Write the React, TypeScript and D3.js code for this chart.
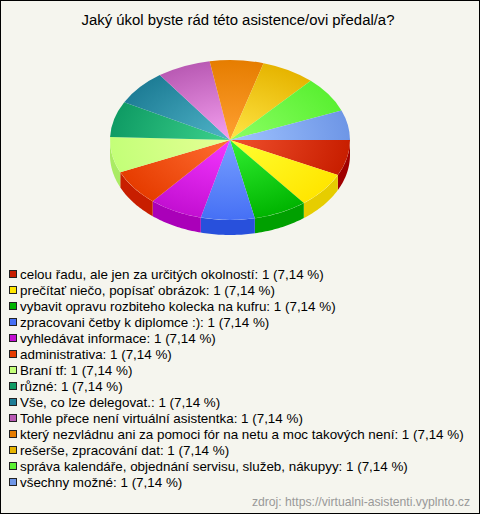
import React from "react";
import * as d3 from "d3";

const W = 480, H = 514;
const title = "Jaký úkol byste rád této asistence/ovi předal/a?";
const source = "zdroj: https://virtualni-asistenti.vyplnto.cz";
const categories = [
  "celou řadu, ale jen za určitých okolností",
  "prečítať niečo, popísať obrázok",
  "vybavit opravu rozbiteho kolecka na kufru",
  "zpracovani četby k diplomce :)",
  "vyhledávat informace",
  "administrativa",
  "Braní tf",
  "různé",
  "Vše, co lze delegovat.",
  "Tohle přece není virtuální asistentka",
  "který nezvládnu ani za pomoci fór na netu a moc takových není",
  "rešerše, zpracování dat",
  "správa kalendáře, objednání servisu, služeb, nákupyy",
  "všechny možné",
];
const counts = [1, 1, 1, 1, 1, 1, 1, 1, 1, 1, 1, 1, 1, 1];
const percents = ["7,14", "7,14", "7,14", "7,14", "7,14", "7,14", "7,14", "7,14", "7,14", "7,14", "7,14", "7,14", "7,14", "7,14"];
const legendColors = ["#c81e00", "#ffe600", "#00b400", "#4670f5", "#c30fd2", "#e63c00", "#c3ff78", "#0f9b64", "#1e7d96", "#b95ab4", "#e67d00", "#e6b400", "#5af032", "#6e96e6"];
const centerColors = ["#f0502d", "#ffff32", "#32f032", "#78a0ff", "#f537ff", "#ff6e32", "#e6ff96", "#3cd28c", "#50b4c8", "#f5a0f0", "#ffa032", "#ffe646", "#8cff64", "#a0c3ff"];
const sideColors = ["#a00000", "#e6cd00", "#00a000", "#2850dc", "#aa00b9", "#c81e00", "#aaeb64", "#0f9b64", "#1e7d96", "#b95ab4", "#e67d00", "#e6b400", "#5af032", "#6e96e6"];

const cx = 230, cy = 140, rx = 120, ry = 80, depth = 15;
const TAU = 2 * Math.PI;
// the tilted disc of the original is drawn with a slight angular distortion
const warp = d3.scaleLinear().domain([0, (13 / 14) * TAU, TAU]).range([0, (338.3 / 360) * TAU, TAU]);
const pieLayout = d3.pie<number>().sort(null).startAngle(0).endAngle(TAU);
const arcs = pieLayout(counts).map((d) => ({
  ...d,
  startAngle: Math.PI / 2 + warp(d.startAngle),
  endAngle: Math.PI / 2 + warp(d.endAngle),
}));
const arcGen = d3.arc<d3.PieArcDatum<number>>().innerRadius(0).outerRadius(rx);
const scaleY = ry / rx;

const ax = (a: number) => cx + rx * Math.sin(a);
const ay = (a: number) => cy - ry * Math.cos(a);
const sideArea = d3.area<number>().x(ax).y0(ay).y1((a) => ay(a) + depth);

function sidePath(start: number, end: number) {
  const lo = Math.max(start, Math.PI / 2);
  const hi = Math.min(end, (3 * Math.PI) / 2);
  if (hi <= lo) return null;
  return sideArea(d3.range(0, 25).map((k) => lo + ((hi - lo) * k) / 24));
}

const legendY = d3.scalePoint<number>().domain(d3.range(categories.length)).range([274, 482]);
const font = "'Liberation Sans', Arial, sans-serif";

export default function App() {
  return (
    <svg width={W} height={H} style={{ position: "fixed", left: 0, top: 0, display: "block" }} fontFamily={font}>
      <defs>
        {arcs.map((_, i) => (
          <radialGradient key={i} id={`g${i}`} gradientUnits="userSpaceOnUse" cx={0} cy={0} r={rx}>
            <stop offset="0%" stopColor={centerColors[i]} />
            <stop offset="100%" stopColor={legendColors[i]} />
          </radialGradient>
        ))}
      </defs>
      <rect x={0.5} y={0.5} width={W - 1} height={H - 1} fill="#f5f5ee" stroke="#000" />
      <text x={238} y={25} textAnchor="middle" fontSize={14.9} fill="#000">{title}</text>
      <g>
        {arcs.map((d, i) => {
          const p = sidePath(d.startAngle, d.endAngle);
          return p ? <path key={i} d={p} fill={sideColors[i]} /> : null;
        })}
      </g>
      <g transform={`translate(${cx},${cy}) scale(1,${scaleY})`}>
        {arcs.map((d, i) => (
          <path key={i} d={arcGen(d) ?? ""} fill={`url(#g${i})`} />
        ))}
      </g>
      <g fontSize={13.4} fill="#000">
        {categories.map((c, i) => {
          const y = legendY(i) ?? 0;
          return (
            <g key={i}>
              <rect x={9.5} y={y - 3.5} width={7} height={7} fill={legendColors[i]} stroke="#222" />
              <text x={20} y={y + 4.5}>{`${c}: ${counts[i]} (${percents[i]} %)`}</text>
            </g>
          );
        })}
      </g>
      <text x={470} y={506} textAnchor="end" fontSize={12.2} fill="#999">{source}</text>
    </svg>
  );
}
